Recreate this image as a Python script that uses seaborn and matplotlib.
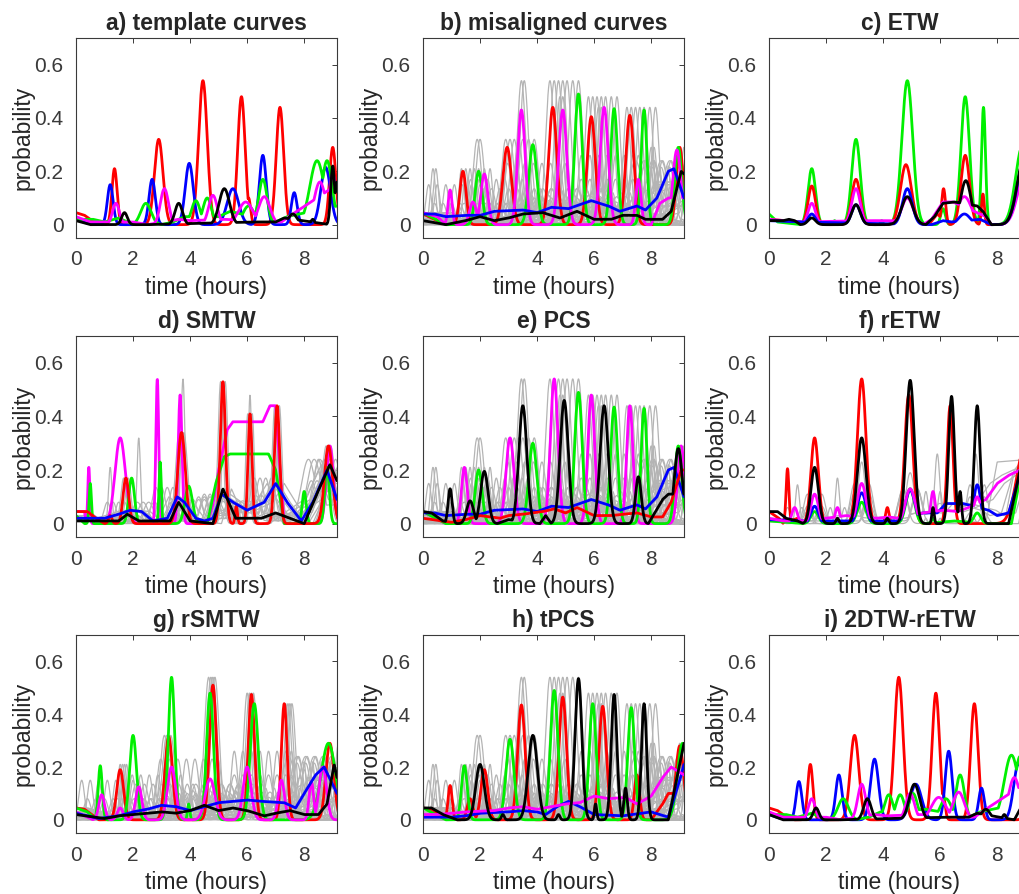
import numpy as np
import pandas as pd
import matplotlib
matplotlib.use("Agg")
import matplotlib.pyplot as plt
import seaborn as sns

X_TICKS = [0, 2, 4, 6, 8]
Y_TICKS = [0, 0.2, 0.4, 0.6]
Y_TICK_LABELS = ["0", "0.2", "0.4", "0.6"]
TITLES = ["a) template curves", "b) misaligned curves", "c) ETW",
          "d) SMTW", "e) PCS", "f) rETW",
          "g) rSMTW", "h) tPCS", "i) 2DTW-rETW"]

# peaks are (time, height, width), bases are (time, level)
# a) template curves
A_RED = [(1.35, .21, .09), (2.9, .32, .15), (4.45, .54, .15), (5.8, .48, .13), (6.05, .1, .07), (7.15, .44, .13), (9.0, .29, .11)]
A_RED_BASE = [(0, .045), (0.3, .035), (0.7, .005), (0.9, 0)]
A_BLUE = [(1.2, .15, .1), (2.67, .17, .11), (3.97, .23, .14), (5.5, .135, .2), (6.55, .26, .12), (7.65, .12, .1), (8.75, .215, .17)]
A_BLUE_BASE = [(0, .02), (0.4, .005), (0.8, 0)]
A_GREEN = [(2.45, .08, .18), (4.2, .09, .15), (4.6, .1, .15), (6.05, .07, .2), (6.55, .17, .15), (8.45, .24, .25), (8.8, .24, .18)]
A_GREEN_BASE = [(0, .02), (0.6, .02), (1.0, .01), (1.5, .025), (2.0, 0), (3.0, 0), (3.4, .01), (3.8, .03), (5.0, .03), (5.4, .05), (7.0, .01), (7.4, .03), (9.15, .07)]
A_MAG = [(1.4, .08, .12), (3.1, .135, .14), (4.8, .11, .15), (5.95, .085, .25), (6.6, .105, .2), (8.55, .16, .2), (9.0, .19, .12)]
A_MAG_BASE = [(0, .03), (0.5, .01), (2.0, .01), (2.5, 0), (3.6, .02), (4.0, .015), (5.2, .02), (7.2, .01), (7.6, .04), (9.15, .15)]
A_BLACK = [(1.7, .045, .1), (3.6, .08, .13), (5.2, .135, .18), (7.6, .04, .15), (8.3, .02, .06), (9.0, .22, .07)]
A_BLACK_BASE = [(0, .015), (0.5, 0), (2.5, 0), (6.2, .01), (7.0, .01), (7.3, .025), (8.9, 0), (9.15, .16)]

# b) misaligned curves
B_RED = [(1.4, .2, .11), (2.95, .29, .15), (4.55, .44, .14), (5.9, .405, .14), (7.25, .41, .14), (9.0, .29, .12)]
B_RED_BASE = [(0, .04), (0.8, 0)]
B_GREEN = [(1.95, .2, .12), (3.85, .3, .14), (5.45, .49, .13), (6.7, .435, .12), (7.75, .43, .1), (8.95, .29, .12)]
B_GREEN_BASE = [(0, .045), (0.8, 0)]
B_MAG = [(0.95, .13, .07), (1.75, .085, .12), (2.15, .19, .12), (3.45, .43, .13), (4.9, .43, .14), (6.35, .44, .14), (7.55, .17, .09), (8.9, .28, .14)]
B_MAG_BASE = [(0, .045), (0.5, .03), (0.8, 0), (8.0, 0), (8.3, .08), (8.6, .1)]
B_BLUE_BASE = [(0, .04), (0.4, .04), (0.8, .03), (1.5, .035), (2.0, .035), (2.5, .05), (3.5, .055), (4.0, .045), (4.5, .065), (5.1, .06), (5.9, .09), (6.5, .07), (6.9, .05), (7.5, .07), (7.8, .055), (8.2, .1), (8.6, .2), (8.8, .21), (9.15, .1)]
B_BLACK_BASE = [(0, .015), (0.8, 0), (1.5, .015), (2.0, .03), (2.5, .015), (3.0, .025), (3.5, .04), (4.2, .045), (4.8, .025), (5.4, .05), (6.0, .02), (6.6, .02), (7.0, .035), (7.5, .035), (7.8, .02), (8.4, .02), (8.7, .05), (9.05, .2), (9.15, .19)]
MIS_SHIFTS_RED = [-1.0, -0.9, 0.0, 0.15, 0.3, 0.45, 0.6, 0.8, 1.0]
MIS_SHIFTS_LOW = [-1.0, -0.7, -0.4, -0.1, 0.2, 0.5, 0.8, 1.0]

# c) ETW
C_GREEN = [(1.5, .21, .13), (2.3, .015, .04), (3.05, .32, .15), (3.95, .015, .04), (4.85, .54, .19), (6.1, .06, .08), (6.88, .48, .15), (7.52, .44, .07), (8.9, .3, .25)]
C_GREEN_BASE = [(0, .04), (0.3, .01), (1.1, 0)]
C_RED = [(1.5, .145, .13), (3.05, .17, .15), (4.8, .225, .19), (6.12, .135, .07), (6.88, .26, .15), (7.5, .115, .05), (8.95, .235, .25)]
C_RED_BASE = [(0, .02), (1.1, .01), (1.2, 0), (5.6, 0), (5.9, .04), (6.0, .03), (6.2, 0)]
C_MAG = [(1.5, .08, .13), (3.05, .135, .15), (4.85, .1, .2), (6.85, .105, .25), (9.0, .2, .27)]
C_MAG_BASE = [(0, .02), (1.1, .01), (3.5, .015), (4.4, .015), (5.4, 0), (5.7, .02), (6.1, .085), (6.45, .085), (7.4, .04), (7.6, .03), (7.8, 0)]
C_BLUE = [(1.5, .04, .13), (3.05, .075, .15), (4.85, .135, .17), (6.85, .04, .2), (8.95, .24, .25)]
C_BLUE_BASE = [(0, .015), (1.1, .01), (5.7, 0), (6.1, .015), (6.4, .01), (7.4, .02), (7.8, 0)]
C_BLACK = [(1.5, .025, .13), (3.05, .075, .15), (4.85, .105, .2), (6.9, .165, .18), (8.95, .25, .25)]
C_BLACK_BASE = [(0, .015), (0.5, .015), (0.7, .02), (0.9, .015), (1.1, 0), (5.5, 0), (5.8, .03), (6.1, .08), (6.5, .085), (7.3, .07), (7.5, .05), (7.8, 0)]

# d) SMTW
D_RED = [(1.2, .03, .06), (1.75, .17, .1), (3.7, .34, .13), (5.15, .53, .09), (5.62, .065, .04), (6.1, .41, .07), (7.05, .44, .09), (8.85, .29, .14)]
D_RED_BASE = [(0, .045), (0.4, .045), (0.7, .02), (1.0, 0)]
D_MAG = [(0.45, .21, .035), (1.55, .32, .18), (2.85, .54, .05), (3.65, .48, .065), (8.9, .29, .12)]
D_MAG_BASE = [(0, .045), (0.3, .045), (0.35, 0), (4.6, 0), (4.8, .07), (5.0, .2), (5.3, .35), (5.5, .38), (6.55, .38), (6.8, .44), (7.0, .44), (7.15, .2), (7.3, 0)]
D_GREEN = [(0.5, .15, .04), (1.95, .17, .1), (2.95, .23, .04), (3.95, .14, .13), (8.0, .12, .07), (8.8, .21, .08)]
D_GREEN_BASE = [(0, .03), (0.3, 0), (4.6, 0), (4.9, .15), (5.2, .25), (5.4, .26), (6.75, .26), (7.0, .2), (7.3, 0)]
D_BLUE_BASE = [(0, .02), (1.0, .02), (1.5, .035), (1.9, .05), (2.3, .045), (2.7, .01), (3.2, .02), (3.55, .1), (3.8, .08), (4.2, .02), (4.5, .01), (4.8, .02), (5.1, .11), (5.5, .08), (6.0, .05), (6.6, .08), (7.0, .15), (7.4, .08), (7.9, .01), (8.3, .08), (8.8, .2), (9.15, .09)]
D_BLACK_BASE = [(0, .01), (1.5, .01), (1.8, .035), (2.2, .01), (3.3, .01), (3.6, .08), (4.0, .01), (4.8, 0), (5.15, .13), (5.6, .02), (6.5, .02), (7.0, .04), (7.5, .02), (8.0, 0), (8.4, .1), (8.9, .22), (9.15, .16)]
D_GRAY = [(1.2, .21, .06), (2.2, .32, .06), (3.75, .54, .07), (5.15, .53, .08), (6.1, .48, .06), (7.0, .44, .08), (8.85, .29, .14)]
D_GRAY_BASE = [(0, .03), (0.8, 0)]
D_SHIFTS = [-0.3, -0.1, 0.1, 0.3]

# e) PCS
E_MAG = [(1.45, .21, .1), (3.05, .32, .14), (4.6, .54, .13), (5.9, .48, .12), (7.25, .44, .11), (9.05, .29, .12)]
E_MAG_BASE = [(0, .045), (0.8, 0)]
E_BLACK = [(0.95, .13, .07), (1.65, .085, .12), (2.15, .195, .13), (3.5, .44, .14), (4.95, .46, .14), (6.35, .44, .14), (7.55, .175, .1), (8.95, .28, .14)]
E_BLACK_BASE = [(0, .045), (0.3, .04), (0.7, .01), (1.2, 0), (2.6, 0), (3.0, .015), (4.1, 0), (4.3, .03), (4.5, 0), (7.9, 0), (8.4, .09), (8.6, .11)]
E_RED_BASE = [(0, .02), (1.0, .005), (1.5, .015), (2.0, .03), (2.7, .02), (3.0, .03), (3.5, .035), (4.2, .045), (4.6, .055), (5.0, .04), (5.4, .06), (6.0, .03), (6.6, .03), (7.0, .035), (7.5, .04), (8.0, .025), (8.4, .025), (8.7, .08), (9.05, .2), (9.15, .2)]

# f) rETW
F_RED = [(0.65, .205, .05), (1.6, .32, .13), (3.25, .54, .15), (4.15, .06, .06), (4.9, .48, .14), (6.35, .44, .1), (9.0, .3, .3)]
F_RED_BASE = [(0, .045), (0.35, .02), (0.5, 0), (1.0, .02), (1.2, 0)]
F_BLACK = [(1.6, .21, .13), (2.4, .02, .05), (3.25, .32, .15), (4.15, .02, .05), (4.95, .535, .14), (5.75, .06, .04), (6.4, .475, .1), (6.7, .12, .05), (7.3, .44, .1)]
F_BLACK_BASE = [(0, .045), (0.3, .045), (0.6, .02), (1.0, .01), (1.2, 0), (8.4, 0), (8.8, .2), (9.15, .28)]
F_MAG = [(0.9, .06, .1), (1.6, .11, .13), (2.4, .06, .08), (3.25, .15, .15), (4.95, .13, .17), (5.75, .12, .08), (7.3, .1, .13)]
F_MAG_BASE = [(0, .02), (0.5, .01), (1.2, .01), (2.0, .02), (2.7, .03), (3.8, .02), (4.2, .025), (4.5, .02), (5.4, .04), (6.1, .05), (6.6, .045), (7.0, .06), (7.6, .09), (8.0, .15), (8.4, .18), (8.8, .2), (9.15, .21)]
F_BLUE = [(1.6, .065, .13), (3.25, .115, .15), (4.95, .125, .17), (7.3, .145, .12)]
F_BLUE_BASE = [(0, .015), (1.2, .01), (4.5, .01), (5.4, .04), (5.9, .04), (6.2, .075), (6.8, .075), (7.7, .05), (8.0, .03), (8.4, .04), (8.7, .15), (8.85, .2), (9.15, .24)]
F_GREEN = [(1.6, .045, .13), (3.25, .08, .15), (4.95, .13, .15), (5.75, .02, .05), (7.3, .04, .12)]
F_GREEN_BASE = [(0, .01), (1.2, 0), (5.4, 0), (6.0, .005), (6.5, .01), (7.6, 0), (8.5, 0), (8.8, .17), (9.15, .25)]
F_GRAY = [(1.0, .145, .07), (2.4, .17, .07), (3.25, .23, .12), (4.95, .19, .15), (5.9, .26, .09), (7.25, .26, .1)]
F_GRAY_BASE = [(0, .02), (0.6, 0), (7.6, 0), (8.0, .23), (9.15, .24)]
F_SHIFTS = [-0.25, 0.25]

# g) rSMTW
G_RED = [(1.55, .19, .12), (3.25, .315, .13), (4.8, .51, .12), (6.15, .475, .11), (7.3, .44, .1), (8.9, .29, .14)]
G_RED_BASE = [(0, .045), (0.3, .04), (0.8, 0)]
G_GREEN = [(0.85, .205, .07), (2.0, .32, .12), (3.35, .54, .11), (3.95, .06, .04), (4.7, .48, .12), (6.25, .44, .14), (8.85, .29, .25)]
G_GREEN_BASE = [(0, .045), (0.4, .03), (0.7, 0)]
G_MAG = [(0.9, .095, .1), (1.55, .045, .1), (2.2, .125, .11), (3.35, .2, .14), (4.7, .155, .17), (6.0, .2, .14), (7.2, .15, .11), (8.25, .145, .08), (8.65, .2, .13)]
G_MAG_BASE = [(0, .03), (0.6, 0)]
G_BLUE_BASE = [(0, .025), (0.8, .005), (1.5, .015), (2.0, .03), (2.5, .04), (3.0, .055), (3.5, .05), (4.0, .035), (4.5, .05), (5.0, .065), (5.5, .07), (6.0, .075), (6.5, .07), (7.3, .065), (7.7, .045), (8.0, .1), (8.4, .17), (8.7, .2), (9.15, .1)]
G_BLACK_BASE = [(0, .02), (1.0, .005), (1.5, .015), (2.0, .02), (3.0, .03), (3.5, .025), (4.0, .035), (4.5, .055), (5.0, .035), (5.5, .045), (6.0, .035), (6.6, .015), (7.0, .025), (7.5, .035), (8.0, .02), (8.5, .02), (8.8, .06), (9.05, .21), (9.15, .16)]
G_SHIFTS_RED = [0.2, 0.28, 0.35, 0.42]

# h) tPCS
H_RED = [(0.95, .13, .07), (1.65, .08, .1), (2.15, .19, .12), (3.45, .435, .13), (4.9, .465, .13), (6.3, .43, .13), (7.5, .17, .09), (9.0, .28, .14)]
H_RED_BASE = [(0, .045), (0.3, .04), (0.7, .01), (1.2, 0), (8.0, 0), (8.4, .06), (8.6, .1)]
H_GREEN = [(1.45, .205, .1), (3.05, .305, .14), (4.6, .49, .13), (5.95, .44, .12), (7.3, .425, .12), (9.1, .29, .18)]
H_GREEN_BASE = [(0, .045), (0.8, 0)]
H_BLACK = [(2.0, .21, .15), (2.8, .02, .05), (3.85, .32, .16), (4.75, .02, .05), (5.45, .535, .12), (6.05, .06, .04), (6.7, .475, .1), (7.1, .12, .06), (7.75, .44, .09)]
H_BLACK_BASE = [(0, .045), (0.3, .045), (0.7, .02), (1.2, 0), (8.6, 0), (9.15, .29)]
H_MAG_BASE = [(0, .02), (0.5, .02), (1.0, .025), (1.5, .03), (2.5, .035), (3.0, .045), (3.5, .05), (4.0, .04), (4.5, .05), (5.0, .06), (5.5, .065), (6.0, .09), (6.5, .08), (7.1, .085), (7.5, .06), (8.0, .09), (8.4, .16), (8.7, .2), (9.15, .17)]
H_BLUE_BASE = [(0, .01), (1.0, .01), (1.5, .015), (2.0, .025), (3.0, .03), (3.5, .035), (4.0, .03), (4.3, .02), (4.7, .05), (5.1, .07), (5.5, .05), (6.0, .02), (7.0, .015), (8.0, .03), (8.6, .01), (9.0, .15), (9.15, .21)]

# i) 2DTW-rETW
I_RED = [(1.45, .21, .09), (3.0, .32, .15), (4.55, .54, .15), (5.85, .48, .13), (6.1, .1, .07), (7.2, .44, .13), (9.15, .29, .12)]
I_RED_BASE = [(0, .045), (0.3, .035), (0.7, .005), (0.9, 0)]
I_BLUE = [(1.05, .145, .1), (2.45, .17, .11), (3.7, .23, .14), (5.15, .135, .2), (6.3, .26, .12), (7.45, .12, .1), (8.75, .215, .17)]
I_BLUE_BASE = [(0, .02), (0.4, .005), (0.8, 0)]
I_GREEN = [(2.6, .08, .18), (4.2, .095, .15), (4.6, .095, .15), (5.05, .1, .15), (6.2, .08, .2), (6.7, .17, .15), (8.5, .245, .25), (8.8, .24, .18)]
I_GREEN_BASE = [(0, .02), (0.6, .02), (1.0, .01), (1.5, .025), (2.0, 0), (3.0, 0), (3.5, .01), (3.9, .03), (5.5, .04), (7.0, .01), (7.4, .03), (9.15, .07)]
I_MAG = [(1.5, .08, .12), (3.25, .135, .14), (4.95, .1, .15), (5.95, .085, .25), (6.65, .105, .2), (8.6, .16, .2), (9.1, .18, .12)]
I_MAG_BASE = [(0, .03), (0.5, .01), (2.0, .01), (2.5, 0), (3.7, .02), (4.1, .015), (5.3, .02), (7.2, .01), (7.6, .04), (9.15, .15)]
I_BLACK = [(1.65, .045, .1), (3.45, .08, .13), (5.1, .135, .18), (7.6, .04, .15), (8.25, .02, .06)]
I_BLACK_BASE = [(0, .02), (0.5, 0), (2.5, 0), (6.2, .01), (7.0, .01), (7.3, .025), (8.6, 0), (9.1, .1)]

RED, GREEN, BLUE, MAG, BLACK, GRAY = "#ff0000", "#00f000", "#0000ff", "#ff00ff", "black", "#b4b4b4"

t = np.linspace(0, 9.4, 900)


def curve(peaks, base, shift=0.0):
    bt = [p[0] + shift for p in base]
    by = [p[1] for p in base]
    y = np.interp(t, bt, by)
    for c, h, w in peaks:
        y = np.maximum(y, h * np.exp(-0.5 * ((t - c - shift) / w) ** 2))
    return y


low_templates = [(A_BLUE, A_BLUE_BASE), (A_GREEN, A_GREEN_BASE), (A_MAG, A_MAG_BASE), (A_BLACK, A_BLACK_BASE)]
gray_mis = [curve(A_RED, A_RED_BASE, s) for s in MIS_SHIFTS_RED]
gray_mis += [curve(p, b, s) for p, b in low_templates for s in MIS_SHIFTS_LOW]

gray_d = [curve(D_GRAY, D_GRAY_BASE)] + [curve(D_RED, D_RED_BASE, s) for s in [-0.08, 0.08]]
gray_d += [curve([], b, s) for b in [D_BLUE_BASE, D_BLACK_BASE] for s in D_SHIFTS]
gray_d += [curve(p, b, s) for p, b in low_templates[1:3] for s in D_SHIFTS]

gray_f = [curve(F_GRAY, F_GRAY_BASE)]
gray_f += [curve(p, b, s) for p, b in [(F_MAG, F_MAG_BASE), (F_BLUE, F_BLUE_BASE), (F_GREEN, F_GREEN_BASE)] for s in F_SHIFTS]

gray_g = [curve(A_RED, A_RED_BASE, s) for s in G_SHIFTS_RED]
gray_g += [curve(p, b, s) for p, b in low_templates for s in MIS_SHIFTS_LOW]

panels = [
    ([], [(RED, A_RED, A_RED_BASE), (BLUE, A_BLUE, A_BLUE_BASE), (GREEN, A_GREEN, A_GREEN_BASE),
          (MAG, A_MAG, A_MAG_BASE), (BLACK, A_BLACK, A_BLACK_BASE)]),
    (gray_mis, [(RED, B_RED, B_RED_BASE), (GREEN, B_GREEN, B_GREEN_BASE), (MAG, B_MAG, B_MAG_BASE),
                (BLUE, [], B_BLUE_BASE), (BLACK, [], B_BLACK_BASE)]),
    ([], [(GREEN, C_GREEN, C_GREEN_BASE), (RED, C_RED, C_RED_BASE), (MAG, C_MAG, C_MAG_BASE),
          (BLUE, C_BLUE, C_BLUE_BASE), (BLACK, C_BLACK, C_BLACK_BASE)]),
    (gray_d, [(MAG, D_MAG, D_MAG_BASE), (GREEN, D_GREEN, D_GREEN_BASE), (RED, D_RED, D_RED_BASE),
              (BLUE, [], D_BLUE_BASE), (BLACK, [], D_BLACK_BASE)]),
    (gray_mis, [(MAG, E_MAG, E_MAG_BASE), (GREEN, B_GREEN, B_GREEN_BASE), (BLUE, [], B_BLUE_BASE),
                (RED, [], E_RED_BASE), (BLACK, E_BLACK, E_BLACK_BASE)]),
    (gray_f, [(RED, F_RED, F_RED_BASE), (GREEN, F_GREEN, F_GREEN_BASE), (BLUE, F_BLUE, F_BLUE_BASE),
              (MAG, F_MAG, F_MAG_BASE), (BLACK, F_BLACK, F_BLACK_BASE)]),
    (gray_g, [(RED, G_RED, G_RED_BASE), (GREEN, G_GREEN, G_GREEN_BASE), (MAG, G_MAG, G_MAG_BASE),
              (BLUE, [], G_BLUE_BASE), (BLACK, [], G_BLACK_BASE)]),
    (gray_mis, [(RED, H_RED, H_RED_BASE), (GREEN, H_GREEN, H_GREEN_BASE), (BLUE, [], H_BLUE_BASE),
                (MAG, [], H_MAG_BASE), (BLACK, H_BLACK, H_BLACK_BASE)]),
    ([], [(RED, I_RED, I_RED_BASE), (BLUE, I_BLUE, I_BLUE_BASE), (GREEN, I_GREEN, I_GREEN_BASE),
          (MAG, I_MAG, I_MAG_BASE), (BLACK, I_BLACK, I_BLACK_BASE)]),
]

sns.set_style("white")
plt.rcParams["font.family"] = ["Liberation Sans", "DejaVu Sans"]

fig = plt.figure(figsize=(10.2, 8.94), dpi=100)
col_left = [0.0745, 0.4147, 0.7539]
row_bottom = [0.7338, 0.3993, 0.0682]
row_height = [0.2237, 0.2248, 0.2215]
axis_col = "#3a3a3a"

for k, (grays, colored) in enumerate(panels):
    r, c = divmod(k, 3)
    ax = fig.add_axes([col_left[c], row_bottom[r], 0.2559, row_height[r]])
    if grays:
        gdf = pd.DataFrame({"t": np.tile(t, len(grays)),
                            "p": np.concatenate(grays),
                            "id": np.repeat(np.arange(len(grays)), len(t))})
        sns.lineplot(data=gdf, x="t", y="p", units="id", estimator=None,
                     color=GRAY, lw=0.9, ax=ax)
    for col, pk, bs in colored:
        sns.lineplot(x=t, y=curve(pk, bs), color=col, lw=2.0, ax=ax)
    ax.set_xlim(0, 9.15)
    ax.set_ylim(-0.05, 0.7)
    ax.set_xticks(X_TICKS)
    ax.set_yticks(Y_TICKS)
    ax.set_yticklabels(Y_TICK_LABELS)
    ax.tick_params(direction="in", length=3.5, width=0.7, top=True, right=True,
                   labelsize=15, colors=axis_col, pad=9)
    for sp in ax.spines.values():
        sp.set_color(axis_col)
        sp.set_linewidth(0.8)
    ax.set_xlabel("time (hours)", fontsize=16.5, color="#262626", labelpad=5)
    ax.set_ylabel("probability", fontsize=16.5, color="#262626", labelpad=0)
    ax.set_title(TITLES[k], fontsize=16.5, fontweight="bold", pad=6)

fig.savefig("out.png", dpi=100)
